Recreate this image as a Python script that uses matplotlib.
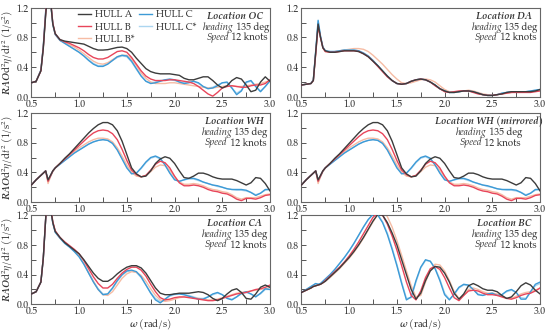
import numpy as np
import matplotlib
matplotlib.use("Agg")
import matplotlib.pyplot as plt
from matplotlib.ticker import MultipleLocator

plt.rcParams['font.family'] = ['TeX Gyre Pagella', 'DejaVu Serif']
plt.rcParams['mathtext.fontset'] = 'custom'
plt.rcParams['mathtext.rm'] = 'TeX Gyre Pagella'
plt.rcParams['mathtext.it'] = 'TeX Gyre Pagella:italic'
plt.rcParams['mathtext.bf'] = 'TeX Gyre Pagella:bold'
plt.rcParams['mathtext.bfit'] = 'TeX Gyre Pagella:italic:bold'

# frequency grid (rad/s)
omega = [0.50, 0.55, 0.60, 0.625, 0.65, 0.675, 0.70, 0.725, 0.75,
         0.80, 0.85, 0.90, 0.95, 1.00, 1.05, 1.10, 1.15, 1.20, 1.25,
         1.30, 1.35, 1.40, 1.45, 1.50, 1.55, 1.60, 1.65, 1.70, 1.75,
         1.80, 1.85, 1.90, 1.95, 2.00, 2.05, 2.10, 2.15, 2.20, 2.25,
         2.30, 2.35, 2.40, 2.45, 2.50, 2.55, 2.60, 2.65, 2.70, 2.75,
         2.80, 2.85, 2.90, 2.95, 3.00]

hulls = ["HULL A", "HULL B", "HULL B*", "HULL C", "HULL C*"]

# Location OC
oc_a = [0.19, 0.21, 0.35, 0.65, 1.10, 1.50, 1.30, 0.98, 0.85,
        0.77, 0.75, 0.74, 0.73, 0.72, 0.71, 0.68, 0.65, 0.63, 0.63,
        0.635, 0.65, 0.665, 0.67, 0.65, 0.60, 0.52, 0.45, 0.38, 0.34,
        0.32, 0.31, 0.31, 0.31, 0.30, 0.29, 0.25, 0.23, 0.23, 0.25,
        0.27, 0.27, 0.22, 0.16, 0.12, 0.15, 0.22, 0.26, 0.24, 0.16,
        0.07, 0.09, 0.20, 0.27, 0.21]
oc_b = [0.19, 0.21, 0.35, 0.66, 1.12, 1.52, 1.32, 0.99, 0.85,
        0.77, 0.74, 0.72, 0.69, 0.66, 0.62, 0.57, 0.53, 0.51, 0.51,
        0.53, 0.57, 0.61, 0.62, 0.60, 0.53, 0.44, 0.35, 0.28, 0.24,
        0.22, 0.22, 0.22, 0.23, 0.23, 0.22, 0.21, 0.20, 0.18, 0.14,
        0.09, 0.04, 0.01, 0.06, 0.12, 0.14, 0.15, 0.14, 0.13, 0.13,
        0.15, 0.16, 0.16, 0.18, 0.23]
oc_bs = [0.19, 0.21, 0.36, 0.67, 1.13, 1.52, 1.30, 0.97, 0.84,
         0.76, 0.73, 0.70, 0.67, 0.63, 0.58, 0.53, 0.48, 0.45, 0.44,
         0.46, 0.50, 0.54, 0.56, 0.56, 0.51, 0.42, 0.32, 0.25, 0.20,
         0.18, 0.18, 0.18, 0.19, 0.19, 0.18, 0.17, 0.16, 0.15, 0.14,
         0.13, 0.12, 0.12, 0.13, 0.14, 0.15, 0.15, 0.14, 0.14, 0.15,
         0.16, 0.17, 0.18, 0.20, 0.22]
oc_c = [0.19, 0.21, 0.36, 0.68, 1.15, 1.55, 1.30, 0.97, 0.84,
        0.76, 0.72, 0.68, 0.64, 0.60, 0.55, 0.49, 0.44, 0.41, 0.41,
        0.44, 0.49, 0.54, 0.56, 0.55, 0.48, 0.38, 0.28, 0.21, 0.18,
        0.19, 0.21, 0.23, 0.24, 0.23, 0.20, 0.18, 0.19, 0.21, 0.19,
        0.14, 0.11, 0.12, 0.15, 0.19, 0.20, 0.12, 0.03, 0.08, 0.20,
        0.22, 0.14, 0.07, 0.14, 0.22]
oc_cs = [0.19, 0.21, 0.36, 0.68, 1.14, 1.54, 1.30, 0.97, 0.84,
         0.76, 0.72, 0.68, 0.64, 0.60, 0.55, 0.50, 0.45, 0.42, 0.42,
         0.45, 0.49, 0.53, 0.55, 0.54, 0.47, 0.37, 0.28, 0.21, 0.19,
         0.20, 0.22, 0.23, 0.23, 0.22, 0.20, 0.19, 0.20, 0.21, 0.18,
         0.14, 0.12, 0.13, 0.16, 0.19, 0.19, 0.12, 0.05, 0.09, 0.19,
         0.21, 0.14, 0.08, 0.14, 0.21]

# Location DA
da_a = [0.16, 0.17, 0.18, 0.22, 0.60, 0.98, 0.80, 0.66, 0.62,
        0.60, 0.60, 0.61, 0.62, 0.62, 0.62, 0.61, 0.58, 0.54, 0.48,
        0.42, 0.35, 0.28, 0.22, 0.18, 0.17, 0.18, 0.21, 0.23, 0.24,
        0.23, 0.20, 0.16, 0.11, 0.08, 0.06, 0.06, 0.07, 0.08, 0.08,
        0.07, 0.05, 0.03, 0.02, 0.02, 0.03, 0.04, 0.06, 0.07, 0.07,
        0.07, 0.07, 0.07, 0.08, 0.10]
da_b = [0.16, 0.17, 0.18, 0.22, 0.58, 0.95, 0.80, 0.66, 0.61,
        0.60, 0.60, 0.61, 0.62, 0.62, 0.62, 0.61, 0.58, 0.54, 0.48,
        0.41, 0.34, 0.27, 0.22, 0.18, 0.17, 0.18, 0.21, 0.23, 0.24,
        0.23, 0.20, 0.15, 0.11, 0.07, 0.06, 0.07, 0.08, 0.08, 0.08,
        0.06, 0.04, 0.03, 0.02, 0.02, 0.03, 0.04, 0.05, 0.06, 0.06,
        0.06, 0.06, 0.06, 0.07, 0.08]
da_bs = [0.16, 0.17, 0.18, 0.22, 0.58, 0.96, 0.80, 0.66, 0.61,
         0.60, 0.61, 0.62, 0.63, 0.64, 0.65, 0.65, 0.64, 0.61, 0.56,
         0.50, 0.44, 0.37, 0.30, 0.24, 0.19, 0.18, 0.19, 0.21, 0.23,
         0.24, 0.23, 0.20, 0.15, 0.10, 0.07, 0.06, 0.07, 0.08, 0.09,
         0.08, 0.06, 0.04, 0.03, 0.02, 0.03, 0.04, 0.05, 0.06, 0.07,
         0.07, 0.07, 0.07, 0.08, 0.09]
da_c = [0.16, 0.17, 0.18, 0.23, 0.62, 1.03, 0.82, 0.67, 0.62,
        0.61, 0.61, 0.62, 0.63, 0.63, 0.63, 0.62, 0.59, 0.55, 0.49,
        0.42, 0.35, 0.28, 0.22, 0.18, 0.17, 0.18, 0.21, 0.23, 0.24,
        0.23, 0.20, 0.16, 0.11, 0.08, 0.06, 0.06, 0.07, 0.08, 0.08,
        0.07, 0.05, 0.03, 0.02, 0.02, 0.03, 0.05, 0.06, 0.07, 0.07,
        0.07, 0.07, 0.08, 0.09, 0.10]
da_cs = [0.16, 0.17, 0.18, 0.23, 0.61, 1.01, 0.81, 0.67, 0.62,
         0.61, 0.61, 0.62, 0.63, 0.63, 0.63, 0.62, 0.59, 0.55, 0.49,
         0.42, 0.35, 0.28, 0.22, 0.18, 0.17, 0.18, 0.21, 0.23, 0.24,
         0.23, 0.20, 0.16, 0.11, 0.08, 0.06, 0.06, 0.07, 0.08, 0.08,
         0.07, 0.05, 0.03, 0.02, 0.02, 0.03, 0.05, 0.06, 0.07, 0.07,
         0.07, 0.07, 0.08, 0.09, 0.10]

# Location WH (also shown mirrored)
wh_a = [0.23, 0.30, 0.36, 0.39, 0.42, 0.30, 0.36, 0.42, 0.46,
        0.52, 0.59, 0.65, 0.72, 0.79, 0.86, 0.93, 0.99, 1.04, 1.07,
        1.07, 1.04, 0.96, 0.82, 0.64, 0.46, 0.38, 0.34, 0.35, 0.42,
        0.52, 0.58, 0.61, 0.59, 0.52, 0.42, 0.33, 0.32, 0.35, 0.39,
        0.39, 0.37, 0.34, 0.32, 0.31, 0.31, 0.31, 0.29, 0.26, 0.23,
        0.26, 0.33, 0.32, 0.25, 0.15]
wh_b = [0.23, 0.30, 0.36, 0.39, 0.42, 0.28, 0.35, 0.42, 0.46,
        0.52, 0.58, 0.64, 0.70, 0.76, 0.82, 0.88, 0.93, 0.96, 0.97,
        0.96, 0.92, 0.84, 0.71, 0.56, 0.43, 0.37, 0.34, 0.36, 0.43,
        0.51, 0.55, 0.53, 0.46, 0.35, 0.26, 0.22, 0.22, 0.23, 0.22,
        0.20, 0.17, 0.15, 0.14, 0.12, 0.11, 0.08, 0.04, 0.02, 0.05,
        0.05, 0.04, 0.06, 0.09, 0.10]
wh_bs = [0.23, 0.30, 0.36, 0.39, 0.42, 0.25, 0.34, 0.41, 0.46,
         0.52, 0.57, 0.63, 0.68, 0.73, 0.77, 0.81, 0.84, 0.86, 0.86,
         0.85, 0.81, 0.73, 0.62, 0.50, 0.40, 0.35, 0.34, 0.36, 0.41,
         0.47, 0.50, 0.49, 0.43, 0.34, 0.27, 0.24, 0.24, 0.25, 0.24,
         0.22, 0.19, 0.17, 0.16, 0.14, 0.13, 0.10, 0.06, 0.04, 0.06,
         0.06, 0.06, 0.08, 0.10, 0.11]
wh_c = [0.23, 0.30, 0.36, 0.39, 0.42, 0.29, 0.35, 0.42, 0.46,
        0.51, 0.56, 0.61, 0.66, 0.70, 0.74, 0.78, 0.81, 0.83, 0.84,
        0.83, 0.79, 0.70, 0.58, 0.46, 0.38, 0.39, 0.46, 0.54, 0.60,
        0.62, 0.59, 0.50, 0.39, 0.30, 0.28, 0.30, 0.32, 0.32, 0.30,
        0.27, 0.25, 0.23, 0.22, 0.20, 0.18, 0.17, 0.17, 0.17, 0.16,
        0.13, 0.09, 0.12, 0.17, 0.17]
wh_cs = [0.23, 0.30, 0.36, 0.39, 0.42, 0.28, 0.35, 0.42, 0.46,
         0.51, 0.56, 0.61, 0.66, 0.70, 0.74, 0.78, 0.81, 0.83, 0.84,
         0.83, 0.79, 0.71, 0.59, 0.47, 0.39, 0.39, 0.45, 0.53, 0.59,
         0.61, 0.58, 0.50, 0.40, 0.31, 0.28, 0.30, 0.31, 0.31, 0.29,
         0.27, 0.25, 0.23, 0.21, 0.20, 0.18, 0.17, 0.16, 0.16, 0.15,
         0.13, 0.10, 0.12, 0.16, 0.17]

# Location CA
ca_a = [0.14, 0.17, 0.30, 0.62, 1.15, 1.60, 1.30, 1.10, 0.98,
        0.90, 0.83, 0.78, 0.73, 0.68, 0.60, 0.51, 0.42, 0.35, 0.31,
        0.31, 0.35, 0.41, 0.46, 0.50, 0.52, 0.52, 0.49, 0.42, 0.32,
        0.22, 0.15, 0.13, 0.13, 0.14, 0.15, 0.15, 0.15, 0.16, 0.17,
        0.16, 0.13, 0.08, 0.05, 0.08, 0.14, 0.19, 0.21, 0.16, 0.08,
        0.07, 0.14, 0.23, 0.26, 0.23]
ca_b = [0.14, 0.17, 0.30, 0.62, 1.15, 1.62, 1.32, 1.11, 0.99,
        0.90, 0.84, 0.79, 0.74, 0.68, 0.59, 0.48, 0.37, 0.28, 0.22,
        0.22, 0.27, 0.35, 0.42, 0.47, 0.50, 0.50, 0.46, 0.38, 0.27,
        0.17, 0.09, 0.06, 0.07, 0.09, 0.10, 0.10, 0.09, 0.08, 0.07,
        0.06, 0.05, 0.05, 0.06, 0.08, 0.10, 0.12, 0.14, 0.15, 0.16,
        0.18, 0.20, 0.21, 0.23, 0.26]
ca_bs = [0.14, 0.17, 0.30, 0.62, 1.15, 1.62, 1.32, 1.10, 0.98,
         0.89, 0.83, 0.78, 0.72, 0.65, 0.55, 0.43, 0.31, 0.20, 0.13,
         0.12, 0.17, 0.26, 0.35, 0.41, 0.44, 0.43, 0.39, 0.31, 0.21,
         0.12, 0.06, 0.04, 0.05, 0.07, 0.09, 0.10, 0.10, 0.09, 0.08,
         0.07, 0.06, 0.06, 0.07, 0.09, 0.11, 0.13, 0.15, 0.16, 0.17,
         0.18, 0.19, 0.20, 0.21, 0.23]
ca_c = [0.14, 0.17, 0.30, 0.62, 1.15, 1.62, 1.30, 1.09, 0.97,
        0.89, 0.82, 0.77, 0.71, 0.64, 0.54, 0.42, 0.30, 0.20, 0.13,
        0.14, 0.22, 0.32, 0.40, 0.45, 0.46, 0.44, 0.37, 0.26, 0.15,
        0.06, 0.02, 0.07, 0.12, 0.14, 0.14, 0.13, 0.11, 0.09, 0.07,
        0.07, 0.10, 0.14, 0.16, 0.13, 0.08, 0.06, 0.10, 0.15, 0.17,
        0.14, 0.10, 0.15, 0.21, 0.20]
ca_cs = [0.14, 0.17, 0.30, 0.62, 1.15, 1.61, 1.30, 1.09, 0.97,
         0.89, 0.82, 0.77, 0.71, 0.64, 0.54, 0.42, 0.31, 0.21, 0.14,
         0.14, 0.21, 0.31, 0.39, 0.44, 0.45, 0.43, 0.36, 0.26, 0.16,
         0.08, 0.04, 0.07, 0.11, 0.13, 0.14, 0.13, 0.12, 0.10, 0.08,
         0.08, 0.10, 0.13, 0.15, 0.13, 0.09, 0.07, 0.10, 0.14, 0.16,
         0.14, 0.11, 0.14, 0.20, 0.20]

# Location BC
bc_a = [0.16, 0.19, 0.22, 0.24, 0.25, 0.26, 0.27, 0.29, 0.31,
        0.37, 0.43, 0.49, 0.56, 0.63, 0.71, 0.80, 0.90, 1.01, 1.12,
        1.21, 1.20, 1.10, 0.96, 0.80, 0.60, 0.40, 0.20, 0.07, 0.15,
        0.32, 0.45, 0.51, 0.50, 0.42, 0.30, 0.15, 0.07, 0.14, 0.25,
        0.28, 0.25, 0.21, 0.19, 0.19, 0.17, 0.12, 0.08, 0.10, 0.17,
        0.25, 0.29, 0.26, 0.19, 0.14]
bc_b = [0.16, 0.19, 0.22, 0.24, 0.25, 0.26, 0.27, 0.29, 0.32,
        0.38, 0.44, 0.50, 0.57, 0.65, 0.74, 0.84, 0.95, 1.06, 1.17,
        1.23, 1.20, 1.08, 0.92, 0.73, 0.52, 0.30, 0.12, 0.06, 0.18,
        0.36, 0.48, 0.51, 0.47, 0.36, 0.22, 0.09, 0.05, 0.12, 0.18,
        0.19, 0.18, 0.15, 0.13, 0.13, 0.12, 0.10, 0.08, 0.07, 0.09,
        0.12, 0.14, 0.15, 0.18, 0.22]
bc_bs = [0.16, 0.19, 0.22, 0.24, 0.25, 0.26, 0.27, 0.29, 0.31,
         0.36, 0.42, 0.48, 0.55, 0.62, 0.70, 0.79, 0.89, 1.00, 1.11,
         1.21, 1.25, 1.18, 1.04, 0.86, 0.66, 0.45, 0.25, 0.10, 0.12,
         0.30, 0.46, 0.54, 0.53, 0.45, 0.32, 0.17, 0.08, 0.12, 0.20,
         0.22, 0.20, 0.17, 0.15, 0.15, 0.14, 0.11, 0.08, 0.08, 0.11,
         0.14, 0.16, 0.17, 0.19, 0.22]
bc_c = [0.16, 0.20, 0.24, 0.26, 0.28, 0.27, 0.28, 0.31, 0.34,
        0.40, 0.47, 0.55, 0.63, 0.72, 0.82, 0.93, 1.04, 1.14, 1.21,
        1.20, 1.10, 0.94, 0.74, 0.52, 0.28, 0.06, 0.10, 0.32, 0.50,
        0.60, 0.58, 0.48, 0.32, 0.13, 0.06, 0.14, 0.23, 0.27, 0.26,
        0.20, 0.13, 0.12, 0.14, 0.15, 0.12, 0.13, 0.18, 0.20, 0.16,
        0.07, 0.07, 0.17, 0.27, 0.30]
bc_cs = [0.16, 0.20, 0.24, 0.26, 0.28, 0.27, 0.28, 0.31, 0.34,
         0.40, 0.47, 0.55, 0.63, 0.72, 0.82, 0.93, 1.04, 1.14, 1.21,
         1.21, 1.11, 0.96, 0.76, 0.54, 0.30, 0.08, 0.09, 0.30, 0.49,
         0.59, 0.58, 0.49, 0.34, 0.15, 0.07, 0.13, 0.22, 0.26, 0.25,
         0.20, 0.14, 0.12, 0.14, 0.15, 0.13, 0.13, 0.17, 0.19, 0.16,
         0.09, 0.08, 0.16, 0.25, 0.28]

panels = [
    ("Location OC", [oc_a, oc_b, oc_bs, oc_c, oc_cs], 0.855),
    ("Location DA", [da_a, da_b, da_bs, da_c, da_cs], 0.85),
    ("Location WH", [wh_a, wh_b, wh_bs, wh_c, wh_cs], 0.85),
    ("Location WH (mirrored)", [wh_a, wh_b, wh_bs, wh_c, wh_cs], 0.785),
    ("Location CA", [ca_a, ca_b, ca_bs, ca_c, ca_cs], 0.85),
    ("Location BC", [bc_a, bc_b, bc_bs, bc_c, bc_cs], 0.85),
]

colors = ["#3c3c3c", "#e8455a", "#f6bca4", "#3d9ad6", "#acd6f0"]
zorders = [5, 4, 2, 3, 1]
txt_col = "#333333"
fs = 7

fig = plt.figure(figsize=(5.5, 3.33), dpi=100)
lefts = [0.057, 0.548]
bottoms = [0.709, 0.393, 0.086]
w, h = 0.434, 0.268

for i, (title, series, tx) in enumerate(panels):
    row, col = divmod(i, 2)
    ax = fig.add_axes([lefts[col], bottoms[row], w, h])
    for name, ys, c, z in zip(hulls, series, colors, zorders):
        ax.plot(omega, ys, color=c, lw=1.0, zorder=z, label=name)
    ax.set_xlim(0.5, 3.0)
    ax.set_ylim(0.0, 1.2)
    ax.xaxis.set_major_locator(MultipleLocator(0.5))
    ax.xaxis.set_minor_locator(MultipleLocator(0.25))
    ax.yaxis.set_major_locator(MultipleLocator(0.4))
    ax.yaxis.set_minor_locator(MultipleLocator(0.2))
    ax.xaxis.set_major_formatter(lambda v, p: f"{v:.1f}")
    ax.yaxis.set_major_formatter(lambda v, p: f"{v:.1f}")
    ax.tick_params(which='both', direction='in', length=3.5, width=0.7,
                   colors='#555555', labelcolor=txt_col, labelsize=7, pad=2)
    ax.tick_params(axis='x', pad=1.5)
    for s in ax.spines.values():
        s.set_color('#666666')
        s.set_linewidth(0.8)

    # annotation block: bold-italic title, then italic word + plain rest
    ax.text(tx, 0.875, title, transform=ax.transAxes, ha='center', va='baseline',
            fontsize=fs, fontweight='bold', style='italic', color=txt_col)
    ax.text(tx - 0.008, 0.755, "heading", transform=ax.transAxes, ha='right',
            va='baseline', fontsize=fs, style='italic', color=txt_col)
    ax.text(tx - 0.008, 0.755, " 135 deg", transform=ax.transAxes, ha='left',
            va='baseline', fontsize=fs, color=txt_col)
    ax.text(tx - 0.028, 0.635, "Speed", transform=ax.transAxes, ha='right',
            va='baseline', fontsize=fs, style='italic', color=txt_col)
    ax.text(tx - 0.028, 0.635, " 12 knots", transform=ax.transAxes, ha='left',
            va='baseline', fontsize=fs, color=txt_col)

    if col == 0:
        ax.set_ylabel(r"$\mathbfit{RAO}\mathrm{d}^2\mathit{\eta}/\mathrm{d}t^2$ (1/s$^2$)",
                      fontsize=fs, color=txt_col)
        ax.yaxis.set_label_coords(-0.068, 0.5)
    if row == 2:
        ax.set_xlabel(r"$\mathbfit{\omega}$ (rad/s)", fontsize=fs,
                      color=txt_col, labelpad=0.5)
    if i == 0:
        ax.legend(loc='upper left', bbox_to_anchor=(0.18, 1.02), ncol=2,
                  frameon=False, fontsize=fs, handlelength=1.3,
                  handletextpad=0.45, columnspacing=0.45, labelspacing=0.15,
                  borderaxespad=0.2, borderpad=0.2, labelcolor=txt_col)

fig.savefig("out.png", dpi=100)
